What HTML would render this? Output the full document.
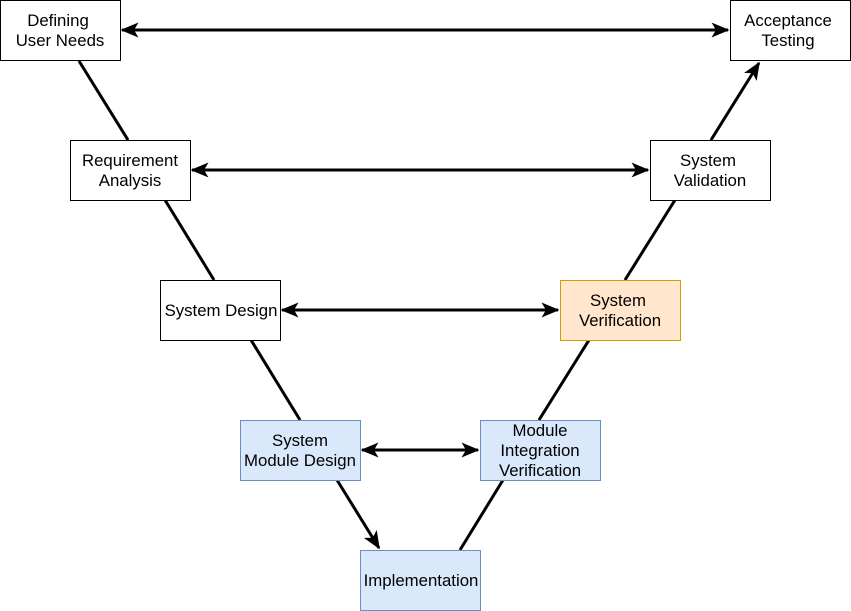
<!DOCTYPE html>
<html><head><meta charset="utf-8"><style>
html,body{margin:0;padding:0;background:#fff;}
svg{display:block;}
text{font-family:"Liberation Sans",Arial,sans-serif;font-size:16.8px;fill:#000;text-anchor:middle;}
</style></head><body>
<svg width="851" height="611" viewBox="0 0 851 611" xmlns="http://www.w3.org/2000/svg">
<defs>
<marker id="a" viewBox="0 0 12 10" refX="11" refY="5" markerWidth="6" markerHeight="5" orient="auto-start-reverse" markerUnits="strokeWidth">
<path d="M0,0 L12,5 L0,10 L3,5 Z" fill="#000"/>
</marker>
</defs>
<g stroke="#000" stroke-width="3" fill="none">
<line x1="79" y1="61" x2="128" y2="140"/>
<line x1="165" y1="200" x2="214" y2="280"/>
<line x1="251" y1="340" x2="300" y2="420"/>
<line x1="337" y1="480" x2="379" y2="548" marker-end="url(#a)"/>
<line x1="460" y1="550" x2="503" y2="480"/>
<line x1="539" y1="420" x2="589" y2="340"/>
<line x1="625" y1="280" x2="675" y2="200"/>
<line x1="711" y1="140" x2="759" y2="63" marker-end="url(#a)"/>
<line x1="122" y1="30" x2="728" y2="30" marker-start="url(#a)" marker-end="url(#a)"/>
<line x1="192" y1="170" x2="648" y2="170" marker-start="url(#a)" marker-end="url(#a)"/>
<line x1="282" y1="310" x2="558" y2="310" marker-start="url(#a)" marker-end="url(#a)"/>
<line x1="362" y1="450" x2="478" y2="450" marker-start="url(#a)" marker-end="url(#a)"/>
</g>
<g stroke-width="1">
<rect x="0.5" y="0.5" width="120" height="60" fill="#fff" stroke="#000"/>
<rect x="730.5" y="0.5" width="120" height="60" fill="#fff" stroke="#000"/>
<rect x="70.5" y="140.5" width="120" height="60" fill="#fff" stroke="#000"/>
<rect x="650.5" y="140.5" width="120" height="60" fill="#fff" stroke="#000"/>
<rect x="160.5" y="280.5" width="120" height="60" fill="#fff" stroke="#000"/>
<rect x="560.5" y="280.5" width="120" height="60" fill="#ffe6cc" stroke="#d79b00"/>
<rect x="240.5" y="420.5" width="120" height="60" fill="#dae8fc" stroke="#6c8ebf"/>
<rect x="480.5" y="420.5" width="120" height="60" fill="#dae8fc" stroke="#6c8ebf"/>
<rect x="360.5" y="550.5" width="120" height="60" fill="#dae8fc" stroke="#6c8ebf"/>
</g>
<text x="58" y="26">Defining</text><text x="60" y="46">User Needs</text>
<text x="788" y="26">Acceptance</text><text x="788" y="46">Testing</text>
<text x="130" y="166">Requirement</text><text x="130" y="186">Analysis</text>
<text x="708" y="166">System</text><text x="710" y="186">Validation</text>
<text x="221" y="316">System Design</text>
<text x="618" y="306">System</text><text x="620" y="326">Verification</text>
<text x="300" y="446">System</text><text x="300" y="466">Module Design</text>
<text x="540" y="436">Module</text><text x="540" y="456">Integration</text><text x="540" y="476">Verification</text>
<text x="421" y="586">Implementation</text>
</svg>
</body></html>
